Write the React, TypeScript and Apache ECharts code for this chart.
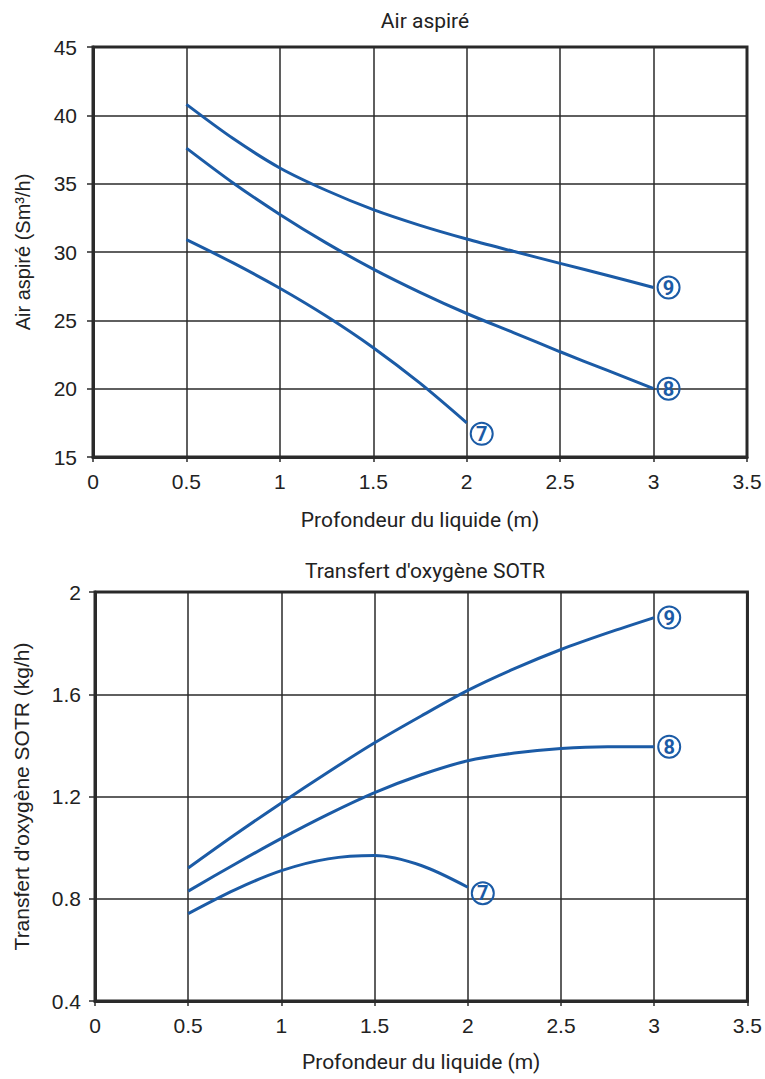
import React, { useEffect, useRef } from "react";
import * as echarts from "echarts";

const depths = [0.5, 0.75, 1, 1.25, 1.5, 1.75, 2, 2.25, 2.5, 2.75, 3];
const depths7 = [0.5, 0.75, 1, 1.25, 1.5, 1.75, 2];

const air9 = [40.8, 38.3, 36.15, 34.5, 33.1, 31.95, 30.95, 30.05, 29.17, 28.3, 27.4];
const air8 = [37.6, 35.05, 32.75, 30.65, 28.75, 27.05, 25.5, 24.1, 22.7, 21.35, 20.0];
const air7 = [30.9, 29.2, 27.35, 25.3, 23.0, 20.4, 17.5];

const sotr9 = [0.92, 1.05, 1.175, 1.295, 1.41, 1.515, 1.615, 1.7, 1.775, 1.84, 1.9];
const sotr8 = [0.83, 0.935, 1.036, 1.13, 1.215, 1.285, 1.34, 1.37, 1.388, 1.395, 1.395];
const sotr7 = [0.742, 0.835, 0.91, 0.956, 0.969, 0.93, 0.845];

const BLUE = "#1b5ba6";
const GRID = "#2a2a2a";

function pairs(xs: number[], ys: number[]) {
  return xs.map((x, i) => [x, ys[i]]);
}

function endLabel(txt: string, offset: number[]) {
  return {
    show: true,
    formatter: "{c|" + txt + "}",
    distance: 4,
    offset,
    rich: {
      c: {
        color: BLUE,
        fontWeight: "bold",
        fontSize: 20,
        fontFamily: "Roboto",
        borderColor: BLUE,
        borderWidth: 2,
        borderRadius: 12,
        width: 22,
        height: 22,
        lineHeight: 23,
        align: "center",
        verticalAlign: "middle",
      },
    },
  };
}

function line(name: string, xi: number, xs: number[], ys: number[], lbl: string, off: number[]) {
  return {
    name,
    type: "line",
    xAxisIndex: xi,
    yAxisIndex: xi,
    data: pairs(xs, ys),
    smooth: 0.3,
    showSymbol: false,
    lineStyle: { color: BLUE, width: 3 },
    endLabel: endLabel(lbl, off),
  };
}

export default function App() {
  const ref = useRef<HTMLDivElement>(null);
  useEffect(() => {
    const chart = echarts.init(ref.current!, null, { renderer: "svg" });
    const axisX = (gridIndex: number, gap: number) => ({
      type: "value",
      gridIndex,
      min: 0,
      max: 3.5,
      interval: 0.5,
      name: "Profondeur du liquide (m)",
      nameLocation: "middle",
      nameGap: gap,
      nameTextStyle: { fontFamily: "Roboto", fontSize: 21, color: "#222" },
      axisLine: { show: true, onZero: false, lineStyle: { color: GRID, width: 3 } },
      axisTick: { show: true, length: 5, lineStyle: { color: GRID, width: 1.5 } },
      axisLabel: { fontFamily: "Liberation Sans", fontSize: 21, color: "#222", margin: 14 },
      splitLine: { show: true, lineStyle: { color: GRID, width: 1.5 } },
    });
    const titleStyle = { fontFamily: "Roboto", fontSize: 21, fontWeight: "normal", color: "#222" };
    const option = {
      animation: false,
      backgroundColor: "#ffffff",
      title: [
        { text: "Air aspiré", left: 420, top: 5, textAlign: "center", textStyle: titleStyle },
        { text: "Transfert d'oxygène SOTR", left: 420, top: 555, textAlign: "center", textStyle: titleStyle },
      ],
      grid: [
        { left: 93, top: 47, width: 654, height: 410, show: true, borderColor: GRID, borderWidth: 3, backgroundColor: "transparent" },
        { left: 95, top: 592, width: 654, height: 409, show: true, borderColor: GRID, borderWidth: 3, backgroundColor: "transparent" },
      ],
      xAxis: [axisX(0, 52), axisX(1, 50)],
      yAxis: [
        {
          type: "value",
          gridIndex: 0,
          min: 15,
          max: 45,
          interval: 5,
          name: "Air aspiré (Sm³/h)",
          nameLocation: "middle",
          nameGap: 60,
          nameTextStyle: { fontFamily: "Liberation Sans", fontSize: 20, color: "#222" },
          axisLine: { show: true, lineStyle: { color: GRID, width: 3 } },
          axisTick: { show: true, length: 6, lineStyle: { color: GRID, width: 1.5 } },
          axisLabel: { fontFamily: "Liberation Sans", fontSize: 21, color: "#222", margin: 16 },
          splitLine: { show: true, lineStyle: { color: GRID, width: 1.5 } },
        },
        {
          type: "value",
          gridIndex: 1,
          min: 0.4,
          max: 2,
          interval: 0.4,
          name: "Transfert d'oxygène SOTR (kg/h)",
          nameLocation: "middle",
          nameGap: 63,
          nameTextStyle: { fontFamily: "Liberation Sans", fontSize: 21, color: "#222" },
          axisLine: { show: true, lineStyle: { color: GRID, width: 3 } },
          axisTick: { show: true, length: 6, lineStyle: { color: GRID, width: 1.5 } },
          axisLabel: {
            fontFamily: "Liberation Sans",
            fontSize: 21,
            color: "#222",
            margin: 14,
            formatter: (v: number) => String(Math.round(v * 10) / 10),
          },
          splitLine: { show: true, lineStyle: { color: GRID, width: 1.5 } },
        },
      ],
      series: [
        line("9", 0, depths, air9, "9", [0, 0]),
        line("8", 0, depths, air8, "8", [0, 0]),
        line("7", 0, depths7, air7, "7", [0, 11]),
        line("9b", 1, depths, sotr9, "9", [0, 0]),
        line("8b", 1, depths, sotr8, "8", [0, 0]),
        line("7b", 1, depths7, sotr7, "7", [0, 6]),
      ],
    };
    chart.setOption(option as any);
    return () => chart.dispose();
  }, []);
  return (
    <div
      ref={ref}
      style={{ position: "fixed", left: 0, top: 0, width: 765, height: 1079, background: "#fff" }}
    />
  );
}
